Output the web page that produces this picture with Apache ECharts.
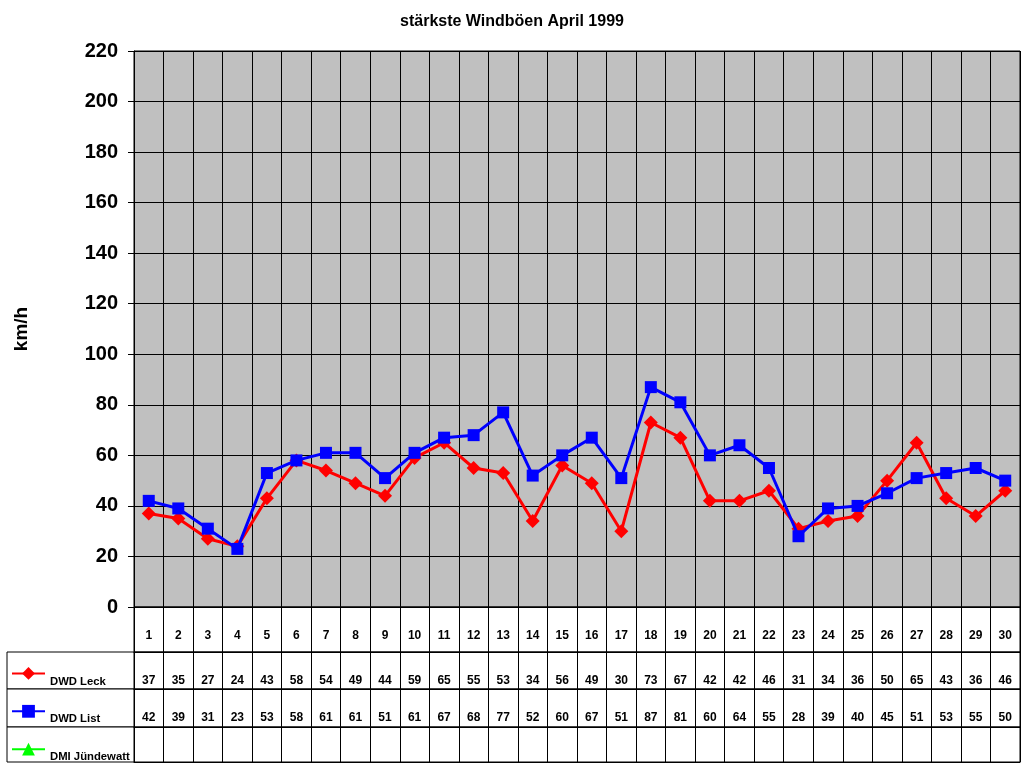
<!DOCTYPE html>
<html>
<head>
<meta charset="utf-8">
<script src="https://cdn.jsdelivr.net/npm/echarts@6/dist/echarts.min.js"></script>
<style>html,body{margin:0;padding:0;background:#fff;}#c{width:1024px;height:768px;}</style>
</head>
<body>
<div id="c"></div>
<script>
var days = ['1','2','3','4','5','6','7','8','9','10','11','12','13','14','15','16','17','18','19','20','21','22','23','24','25','26','27','28','29','30'];
var leck = [37,35,27,24,43,58,54,49,44,59,65,55,53,34,56,49,30,73,67,42,42,46,31,34,36,50,65,43,36,46];
var list = [42,39,31,23,53,58,61,61,51,61,67,68,77,52,60,67,51,87,81,60,64,55,28,39,40,45,51,53,55,50];
var juendewatt = [null,null,null,null,null,null,null,null,null,null,null,null,null,null,null,null,null,null,null,null,null,null,null,null,null,null,null,null,null,null];
var yTicks = {min:0, max:220, interval:20};
var seriesNames = ['DWD Leck','DWD List','DMI Jündewatt'];

var FONT = '"Liberation Sans", Arial, sans-serif';
var chart = echarts.init(document.getElementById('c'));

function toLabels(arr){ return arr.map(function(v){ return v == null ? '' : String(v); }); }

var L = 134, R = 4;
var rows = [
  {top:607, h:45, data:days, margin:10},
  {top:652, h:37, data:toLabels(leck), margin:2},
  {top:689, h:38, data:toLabels(list), margin:3},
  {top:727, h:35, data:toLabels(juendewatt), margin:4}
];

var grids = [{left:L, right:R, top:51, height:556, show:true, backgroundColor:'#C0C0C0', borderColor:'#000', borderWidth:1}];
var xAxes = [{
  gridIndex:0, type:'category', data:days,
  axisLine:{show:true, lineStyle:{color:'#000', width:1}},
  axisTick:{show:false}, axisLabel:{show:false},
  splitLine:{show:true, interval:0, lineStyle:{color:'#000', width:1}}
}];
var yAxes = [{
  gridIndex:0, type:'value', min:yTicks.min, max:yTicks.max, interval:yTicks.interval,
  name:'km/h', nameLocation:'middle', nameRotate:90, nameGap:103,
  nameTextStyle:{fontFamily:FONT, fontWeight:'bold', fontSize:19, color:'#000'},
  axisLine:{show:true, lineStyle:{color:'#000', width:1}},
  axisTick:{show:true, length:6, lineStyle:{color:'#000'}},
  axisLabel:{fontFamily:FONT, fontWeight:'bold', fontSize:20, color:'#000', margin:16},
  splitLine:{show:true, lineStyle:{color:'#000', width:1}}
}];

rows.forEach(function(r, i){
  var gi = grids.length;
  grids.push({left:L, right:R, top:r.top, height:r.h, show:true, backgroundColor:'#fff', borderColor:'#000', borderWidth:1});
  xAxes.push({
    gridIndex:gi, type:'category', data:r.data,
    axisLine:{show:true, lineStyle:{color:'#000'}}, axisTick:{show:false},
    axisLabel:{show:true, inside:true, interval:0, margin:r.margin, fontFamily:FONT, fontWeight:'bold', fontSize:12, color:'#000'},
    splitLine:{show:true, interval:0, lineStyle:{color:'#000', width:1}}
  });
  yAxes.push({gridIndex:gi, type:'value', show:false, min:0, max:1, splitLine:{show:false}});
  if (i > 0) {
    var gj = grids.length;
    grids.push({left:7, width:127, top:r.top, height:r.h, show:true, backgroundColor:'#fff', borderColor:'#000', borderWidth:1});
    xAxes.push({gridIndex:gj, type:'value', show:false, min:0, max:1, splitLine:{show:false}});
    yAxes.push({gridIndex:gj, type:'value', show:false, min:0, max:1, splitLine:{show:false}});
  }
});

chart.setOption({
  animation:false,
  backgroundColor:'#fff',
  title:{text:'stärkste Windböen April 1999', left:'center', top:9,
    textStyle:{fontFamily:FONT, fontWeight:'bold', fontSize:16, color:'#000'}},
  legend:{
    data:seriesNames, orient:'vertical', left:6, top:662, itemWidth:33, itemHeight:16, itemGap:18,
    selectedMode:false,
    formatter:function(n){ return '{a|' + n + '}'; },
    textStyle:{fontFamily:FONT, fontWeight:'bold', fontSize:11.3, color:'#000',
      rich:{a:{fontFamily:FONT, fontWeight:'bold', fontSize:11.3, color:'#000', padding:[16,0,0,0]}}}
  },
  grid:grids, xAxis:xAxes, yAxis:yAxes,
  series:[
    {name:seriesNames[0], type:'line', xAxisIndex:0, yAxisIndex:0, data:leck,
      color:'#FF0000', symbol:'diamond', symbolSize:[14,14], showAllSymbol:true,
      lineStyle:{width:3, color:'#FF0000'}, itemStyle:{color:'#FF0000'}, z:3},
    {name:seriesNames[1], type:'line', xAxisIndex:0, yAxisIndex:0, data:list,
      color:'#0000FF', symbol:'rect', symbolSize:12, showAllSymbol:true,
      lineStyle:{width:3, color:'#0000FF'}, itemStyle:{color:'#0000FF'}, z:4},
    {name:seriesNames[2], type:'line', xAxisIndex:0, yAxisIndex:0, data:juendewatt,
      color:'#00FF00', symbol:'triangle', symbolSize:12,
      lineStyle:{width:3, color:'#00FF00'}, itemStyle:{color:'#00FF00'}, z:5}
  ]
});
</script>
</body>
</html>
